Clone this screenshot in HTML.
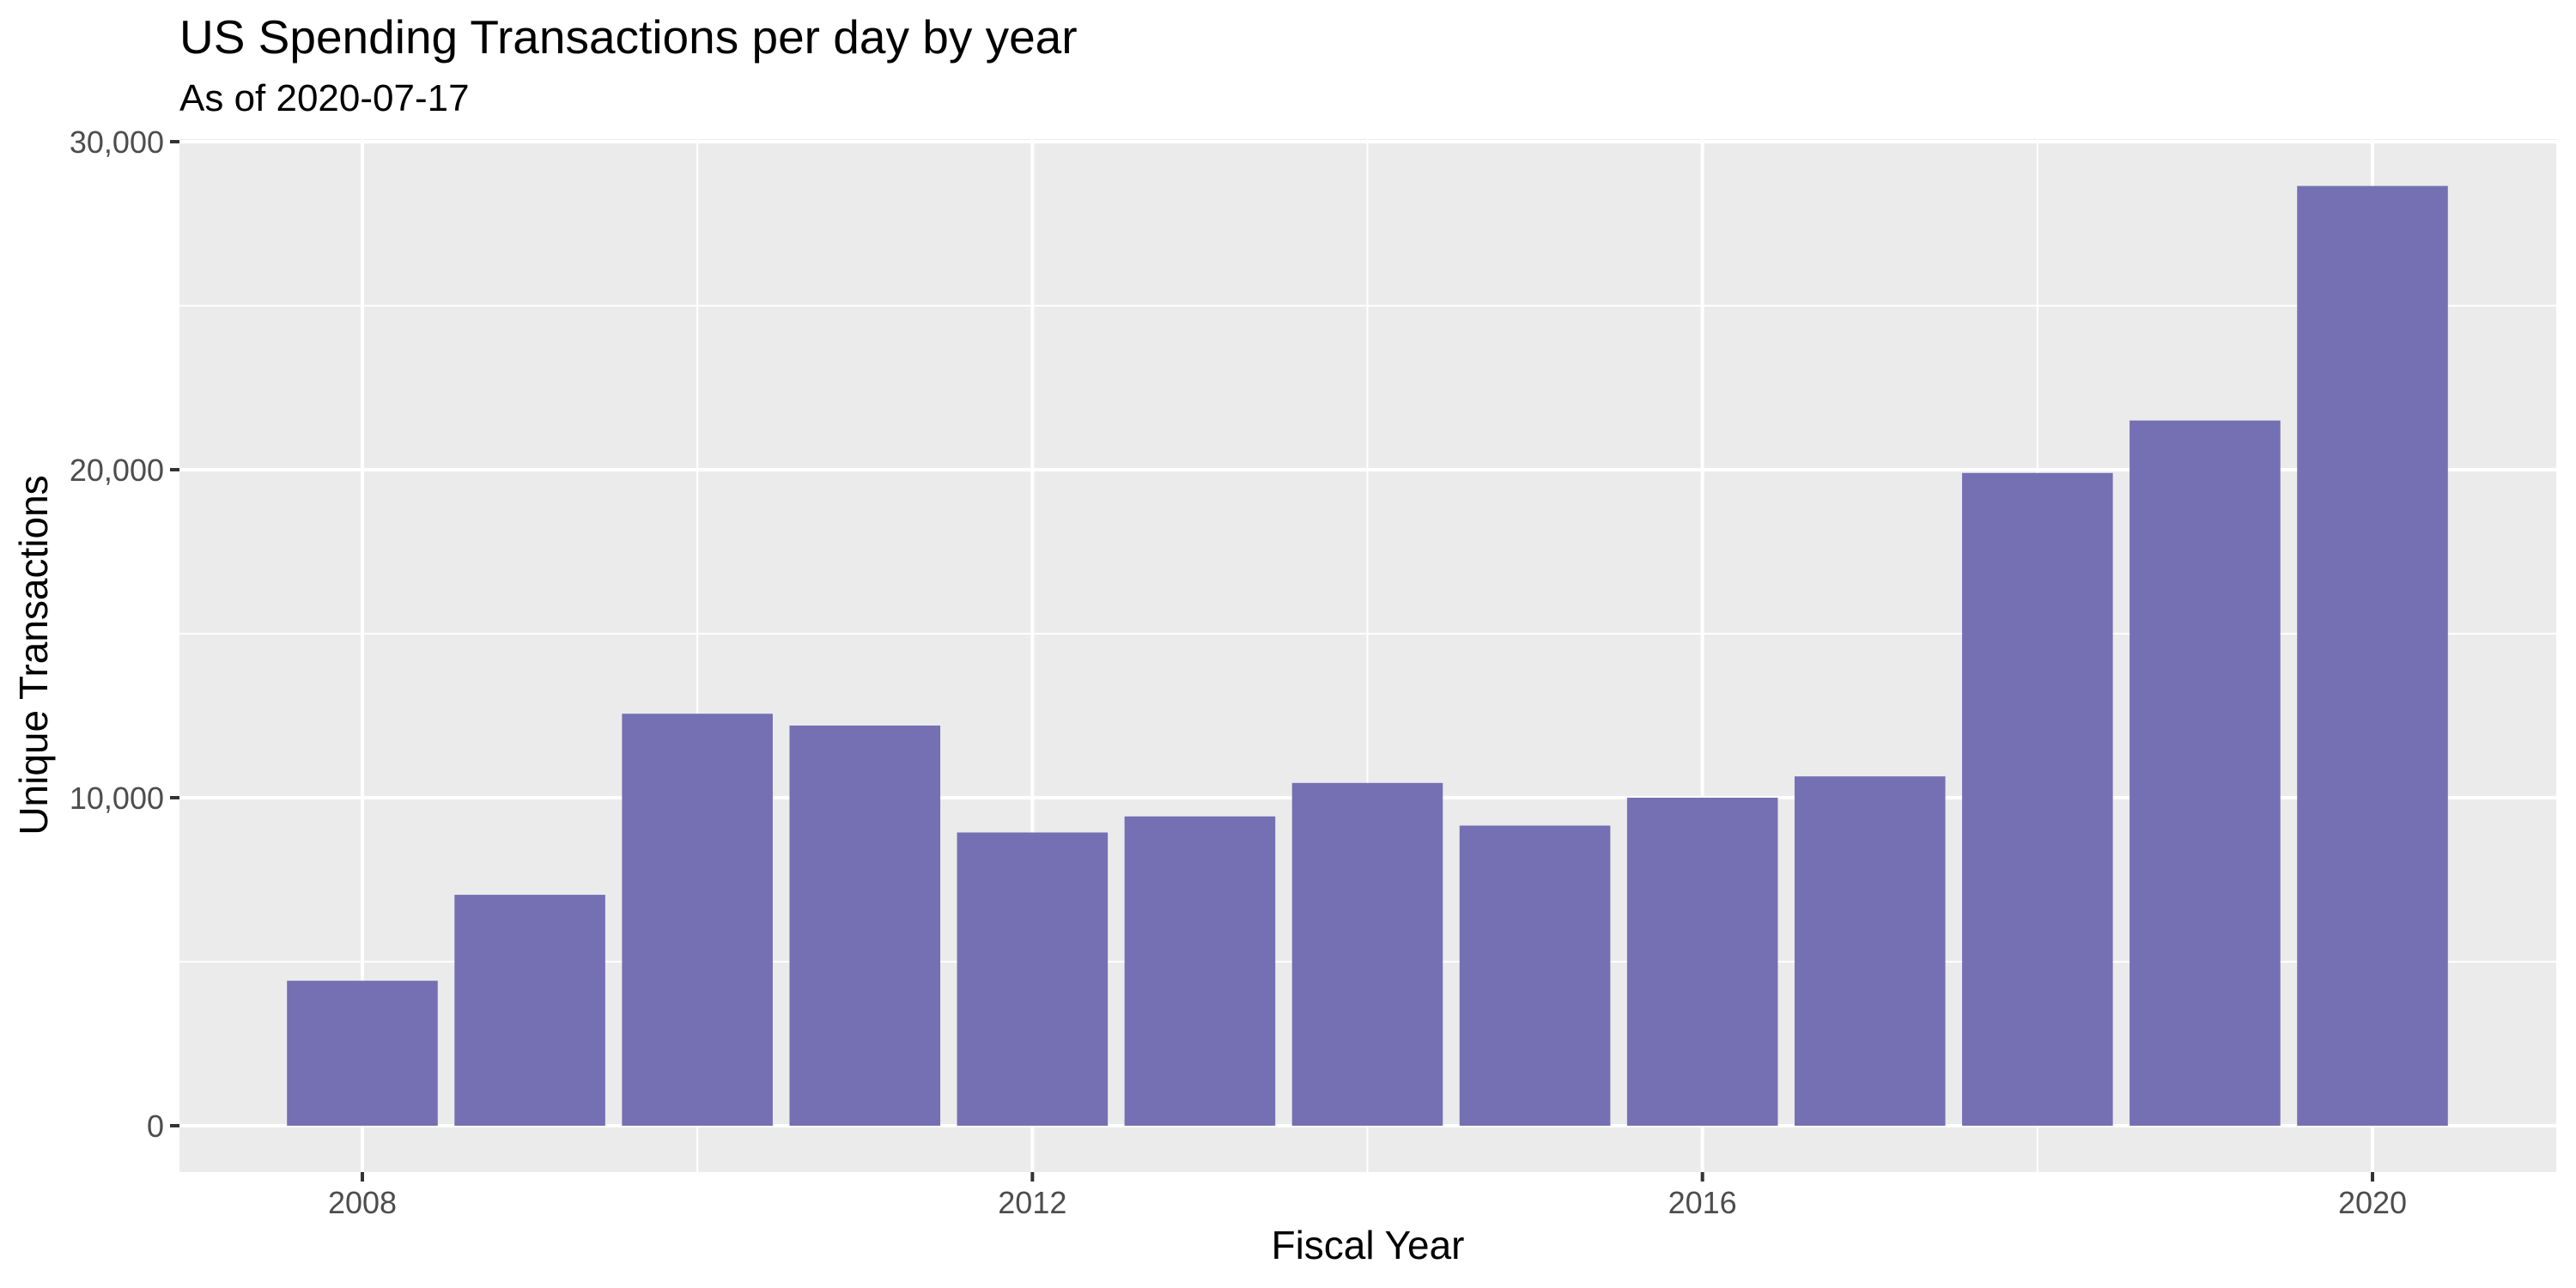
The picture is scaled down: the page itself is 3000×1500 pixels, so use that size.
<!DOCTYPE html>
<html><head><meta charset="utf-8"><style>
html,body{margin:0;padding:0;background:#fff;}
svg{display:block;font-family:"Liberation Sans",Arial,sans-serif;}
</style></head><body>
<svg id="chart" width="3000" height="1500" viewBox="0 0 3000 1500">
<rect x="0" y="0" width="3000" height="1500" fill="#fff"/>
<text x="209" y="62" font-size="55" fill="#000">US Spending Transactions per day by year</text>
<text x="209" y="129" font-size="44" fill="#000">As of 2020-07-17</text>
<rect x="209" y="162" width="2768" height="1203" fill="#ebebeb"/>
<g id="grid"></g>
<g id="bars"></g>
<g id="axes"></g>
<text x="1593" y="1466" font-size="46" text-anchor="middle" fill="#000">Fiscal Year</text>
<text transform="translate(55,763) rotate(-90)" font-size="46" text-anchor="middle" fill="#000">Unique Transactions</text>
</svg>
<script>
const years = [2008,2009,2010,2011,2012,2013,2014,2015,2016,2017,2018,2019,2020];
const transactions = [4420,7040,12560,12200,8940,9430,10450,9150,10000,10650,19900,21500,28650];
const yTicks = [0,10000,20000,30000];
const yTickLabels = ["0","10,000","20,000","30,000"];
const yMinor = [5000,15000,25000];
const xTicks = [2008,2012,2016,2020];
const xTickLabels = ["2008","2012","2016","2020"];
const xMinor = [2010,2014,2018];

const NS = "http://www.w3.org/2000/svg";
const PL=209, PR=2977, PT=162, PB=1365;
function xScale(v){ return 422 + (v-2008)*(2763-422)/12; }
function yScale(v){ return 1311 - v*38.2/1000; }
const bandW = (2763-422)/12*0.9;
function mk(tag, attrs, parent){ const e=document.createElementNS(NS,tag); for(const k in attrs) e.setAttribute(k,attrs[k]); parent.appendChild(e); return e; }
const grid=document.getElementById('grid'), bars=document.getElementById('bars'), axes=document.getElementById('axes');

yMinor.forEach(v=>{ const l=mk('line',{x1:PL,x2:PR,y1:yScale(v),y2:yScale(v),stroke:'#fff','stroke-width':2},grid);

 });
xMinor.forEach(v=>{ const l=mk('line',{x1:xScale(v),x2:xScale(v),y1:PT,y2:PB,stroke:'#fff','stroke-width':2},grid);

 });
yTicks.forEach(v=>{ const l=mk('line',{x1:PL,x2:PR,y1:yScale(v),y2:yScale(v),stroke:'#fff','stroke-width':4},grid);

 });
xTicks.forEach(v=>{ const l=mk('line',{x1:xScale(v),x2:xScale(v),y1:PT,y2:PB,stroke:'#fff','stroke-width':4},grid);

 });

years.forEach((yr,i)=>{ const y0=yScale(0), y1=yScale(transactions[i]);
const r=mk('rect',{x:xScale(yr)-bandW/2,y:y1,width:bandW,height:y0-y1,fill:'#7570b3'},bars);

 });

yTicks.forEach((v,i)=>{ const y=yScale(v);
const t=mk('line',{x1:PL-11,x2:PL,y1:y,y2:y,stroke:'#333','stroke-width':4},axes);


const lb=mk('text',{x:PL-18,y:y+13,'font-size':36,'text-anchor':'end',fill:'#4d4d4d'},axes);
lb.textContent=yTickLabels[i];

 });
xTicks.forEach((v,i)=>{ const x=xScale(v);
const t=mk('line',{x1:x,x2:x,y1:PB,y2:PB+11,stroke:'#333','stroke-width':4},axes);


const lb=mk('text',{x:x,y:1413,'font-size':36,'text-anchor':'middle',fill:'#4d4d4d'},axes);
lb.textContent=xTickLabels[i];

 });
</script>
</body></html>
